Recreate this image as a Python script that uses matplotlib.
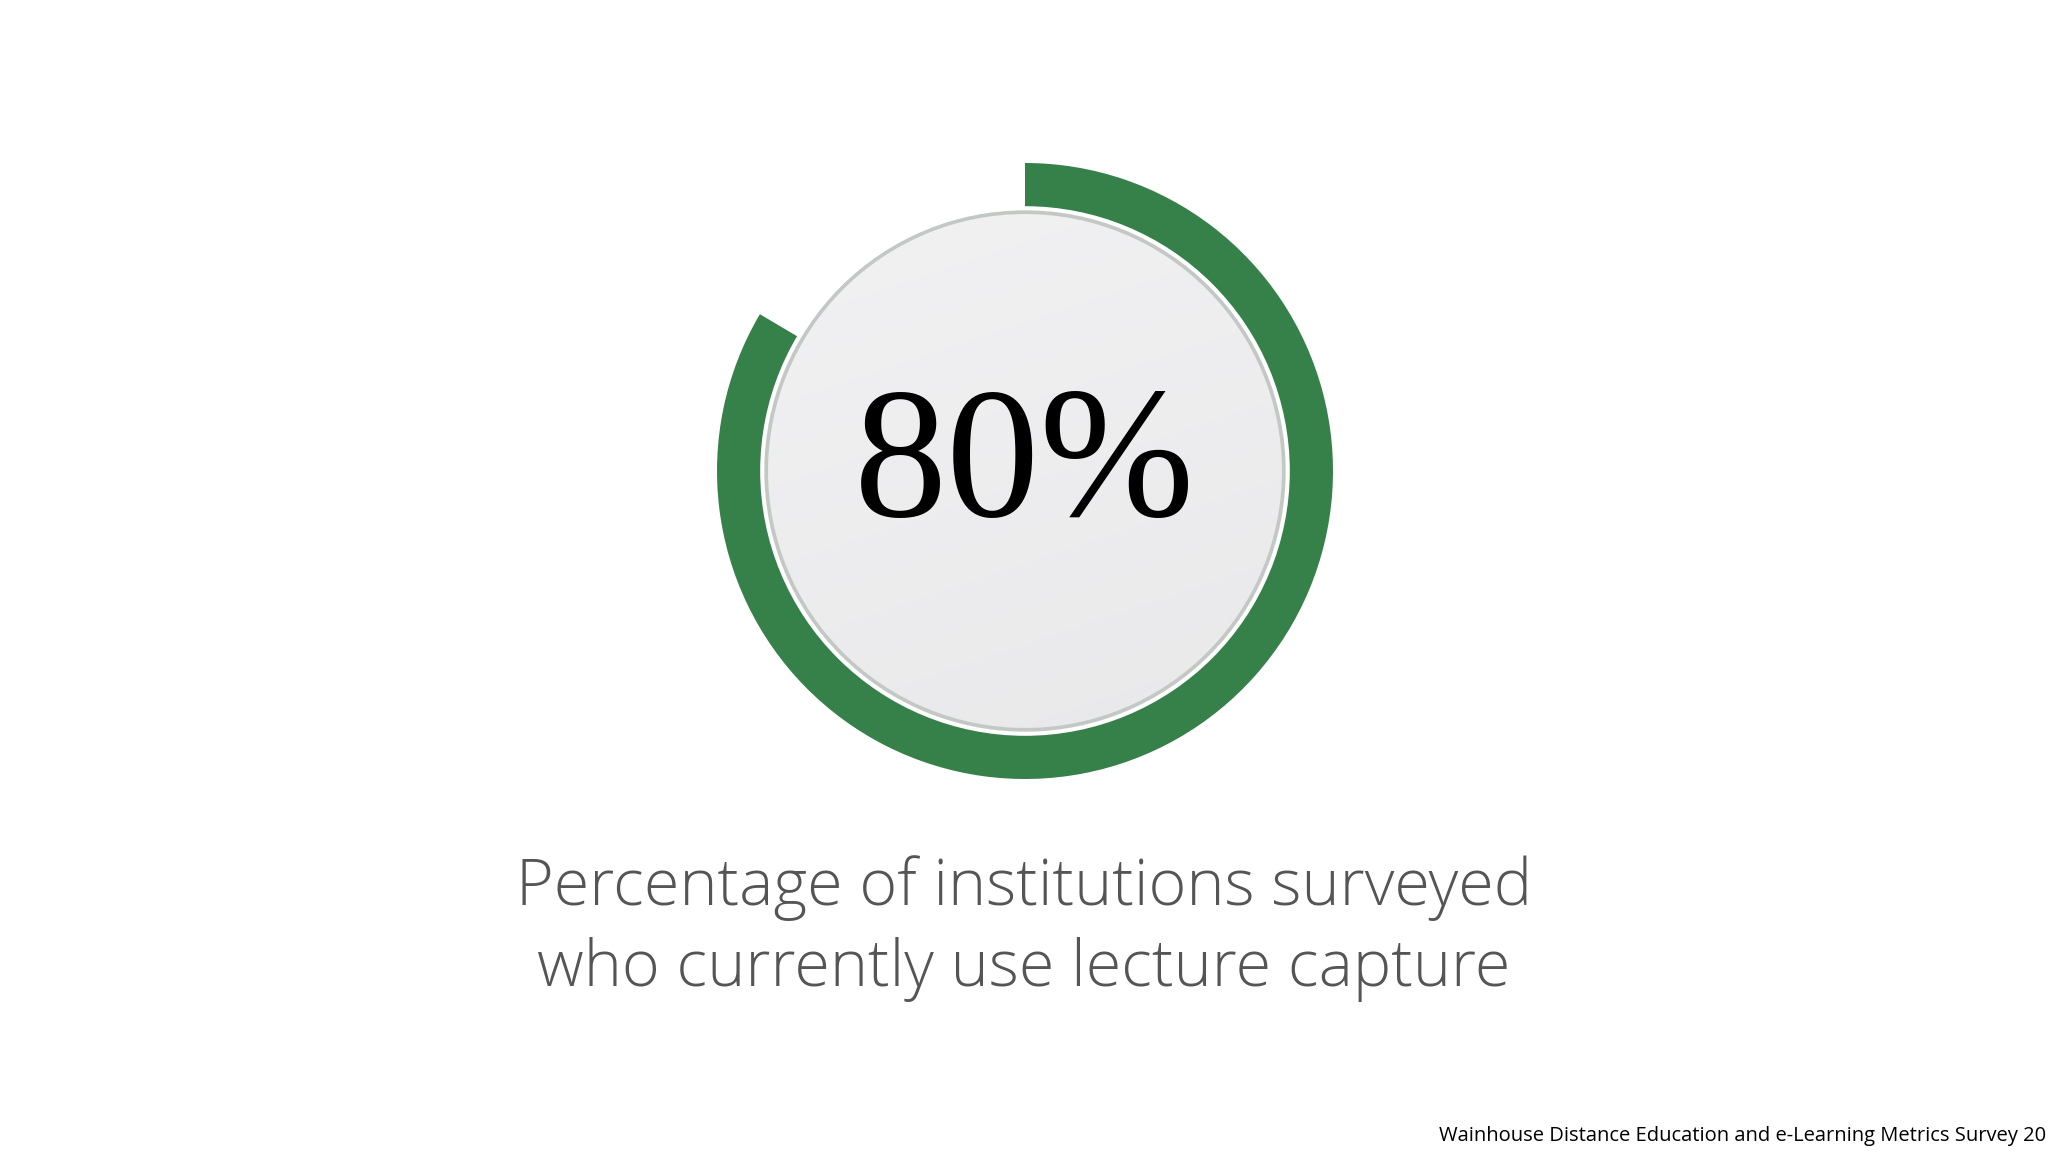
import matplotlib
matplotlib.use("Agg")
import matplotlib.pyplot as plt
import numpy as np
from matplotlib.patches import Circle

# Values
label_value = 80            # number printed in the middle
ring_shares = [83.5, 16.5]  # filled / empty part of the ring as drawn in the graphic
ring_colors = ["#36804a", "none"]
caption_lines = ["Percentage of institutions surveyed",
                 "who currently use lecture capture"]
source_note = "Wainhouse Distance Education and e-Learning Metrics Survey 20"

W, H = 2048, 1152
fig = plt.figure(figsize=(W / 100, H / 100), dpi=100)
fig.patch.set_facecolor("white")

# ring placement in pixels
cx, cy, r_out = 1025, 471, 308
ax = fig.add_axes([(cx - r_out) / W, (H - cy - r_out) / H, 2 * r_out / W, 2 * r_out / H])

ax.pie(ring_shares, colors=ring_colors, startangle=90, counterclock=False,
       radius=1.0, wedgeprops=dict(width=0.16, edgecolor="none"))

# inner disc with soft gradient
disc_r = 0.835
yy, xx = np.mgrid[1:-1:400j, -1:1:400j]
shade = 0.95 - 0.03 * (0.5 - 0.5 * yy) - 0.01 * (xx + 1) / 2
img = ax.imshow(np.dstack([shade, shade, shade + 0.006]).clip(0, 1),
                extent=[-1, 1, -1, 1], zorder=2)
clip = Circle((0, 0), disc_r, transform=ax.transData)
img.set_clip_path(clip)
ax.add_patch(Circle((0, 0), disc_r + 0.006, fill=False, edgecolor="#c3c8c4",
                    linewidth=3, zorder=3))
ax.add_patch(Circle((0, 0), disc_r + 0.018, fill=False, edgecolor="white",
                    linewidth=3, zorder=3))
ax.set_xlim(-1, 1)
ax.set_ylim(-1, 1)
ax.set_aspect("equal")
ax.axis("off")

ax.text(0, 0.0, f"{label_value}%", ha="center", va="center",
        fontsize=134, family=["Liberation Serif", "DejaVu Serif"], color="black", zorder=4)

# caption
cap_font = dict(fontsize=46.5, family=["Open Sans", "DejaVu Sans"], fontweight=300,
                color="#555555", ha="center", va="baseline")
fig.text(1024 / W, 1 - 905 / H, caption_lines[0], **cap_font)
fig.text(1024 / W, 1 - 986 / H, caption_lines[1], **cap_font)

fig.text(2046 / W, 1 - 1141 / H, source_note, ha="right", va="baseline",
         fontsize=14.5, family=["Open Sans", "DejaVu Sans"], color="black")

fig.savefig("out.png", dpi=100, facecolor="white")
